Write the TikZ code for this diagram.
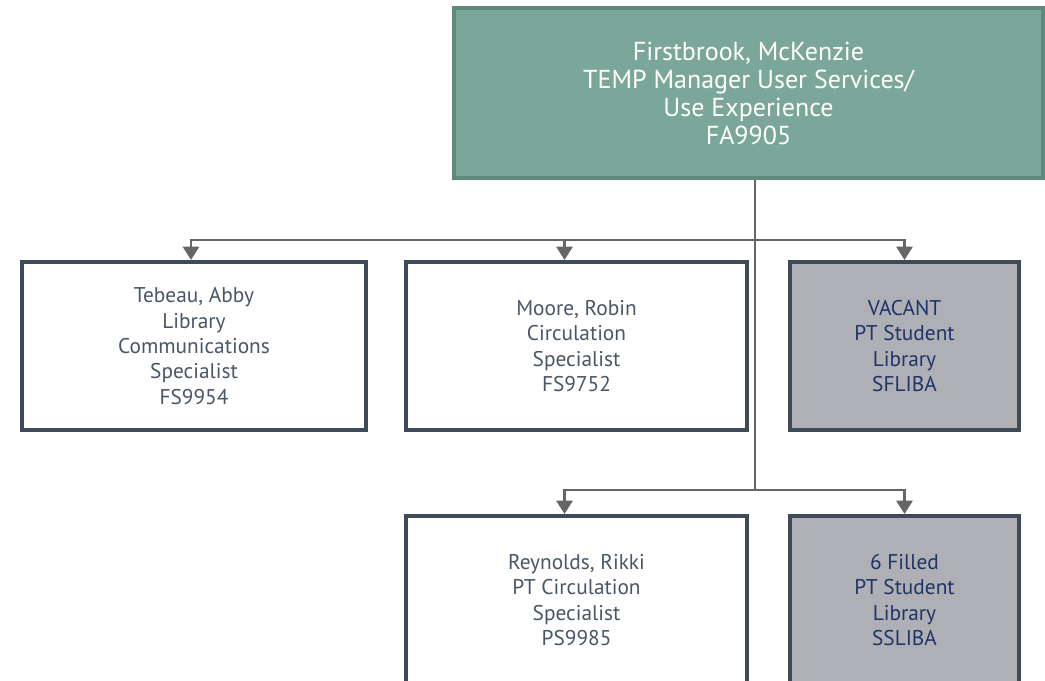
\documentclass[tikz,border=0pt]{standalone}
\usepackage{fontspec}
\setmainfont{PT Sans}
\usetikzlibrary{arrows.meta,positioning}

\definecolor{mgrfill}{HTML}{7BA69A}
\definecolor{mgrline}{HTML}{5E8A7E}
\definecolor{boxline}{HTML}{3E4A57}
\definecolor{staffText}{HTML}{4A5566}
\definecolor{vacfill}{HTML}{AEB0B5}
\definecolor{vacText}{HTML}{1F3468}
\definecolor{connGrey}{HTML}{666666}

\begin{document}
\begin{tikzpicture}
  [
  x=0.75pt, y=-0.75pt,
  conn/.style={draw=connGrey, line width=2.2pt},
  arr/.style={conn, -{Triangle[width=12pt,length=10pt]}},
  mgrbox/.style={rectangle, draw=mgrline, fill=mgrfill, line width=3pt,
    minimum width=442pt, minimum height=127.5pt, align=center, text=white,
    font=\fontsize{19.5pt}{21pt}\selectfont},
  staffbox/.style={rectangle, draw=boxline, fill=white, line width=3pt,
    minimum height=126pt, align=center, text=staffText,
    font=\fontsize{16pt}{19pt}\selectfont},
  vacbox/.style={staffbox, fill=vacfill, text=vacText, minimum width=172pt}
  ]

  \useasboundingbox (0,0) rectangle (1045,681);

  \node[mgrbox] (mgr) at (748.5,93) {Firstbrook, McKenzie\\TEMP Manager User Services/\\Use Experience\\FA9905};

  \node[staffbox, minimum width=258pt] (tebeau) at (194,346) {Tebeau, Abby\\Library\\Communications\\Specialist\\FS9954};
  \node[staffbox, minimum width=256pt] (moore) at (576.5,346) {Moore, Robin\\Circulation\\Specialist\\FS9752};
  \node[vacbox] (vacant) at (904.5,346) {VACANT\\PT Student\\Library\\SFLIBA};

  \node[staffbox, minimum width=256pt] (reynolds) at (576.5,600) {Reynolds, Rikki\\PT Circulation\\Specialist\\PS9985};
  \node[vacbox] (filled) at (904.5,600) {6 Filled\\PT Student\\Library\\SSLIBA};

  \coordinate (hub1) at (755,240);
  \coordinate (hub2) at (755,490);

  \draw[conn] (mgr.south -| hub1) -- (hub2);

  \draw[arr] (hub1) -| ([xshift=-2.25pt]tebeau.north);
  \draw[arr] (hub1) -| ([xshift=-9pt]moore.north);
  \draw[arr] (hub1) -| (vacant.north);

  \draw[arr] (hub2) -| ([xshift=-9pt]reynolds.north);
  \draw[arr] (hub2) -| (filled.north);
\end{tikzpicture}
\end{document}
